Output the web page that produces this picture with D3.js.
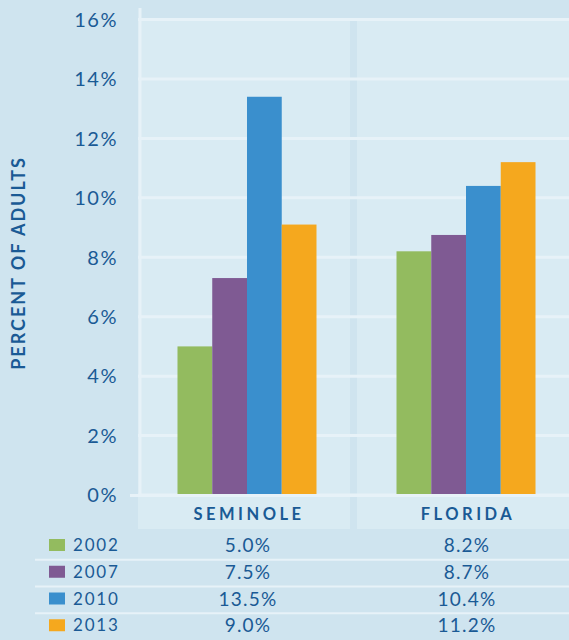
<!DOCTYPE html>
<head>
    <meta charset='utf-8'>
    <title>Percent of Adults</title>
    <script src='https://d3js.org/d3.v7.min.js'></script>
    <style>
        html, body {
            margin: 0px;
            padding: 0px;
            background-color: #cfe4ef;
        }
        svg {
            display: block;
            font-family: 'Lato', 'Open Sans', sans-serif;
        }
        .tick-label, .cell-text, .year-text {
            fill: #1a5a95;
        }
    </style>
</head>
<body>
    <div id='chart'></div>

    <script>
        // data
        var places = ['SEMINOLE', 'FLORIDA'];
        var years = ['2002', '2007', '2010', '2013'];
        var colors = ['#93bb5f', '#7f5a93', '#3a8fcd', '#f5a81e'];
        var seminoleValues = [5.0, 7.3, 13.4, 9.1];
        var floridaValues = [8.2, 8.75, 10.4, 11.2];
        var seminoleLabels = ['5.0%', '7.5%', '13.5%', '9.0%'];
        var floridaLabels = ['8.2%', '8.7%', '10.4%', '11.2%'];
        var yTicks = [0, 2, 4, 6, 8, 10, 12, 14, 16];

        var width = 569, height = 640;
        var textColor = '#1a5a95';
        var panelLeft = 138, panelRight = 569;

        var svg = d3.select('#chart').append('svg')
            .attr('width', width)
            .attr('height', height);

        svg.append('rect')
            .attr('width', width).attr('height', height)
            .attr('fill', '#cfe4ef');

        var y = d3.scaleLinear().domain([0, 16]).range([495, 19.5]);

        var x0 = d3.scaleBand()
            .domain(places)
            .range([panelLeft, panelRight])
            .paddingInner(0.032);

        var x1 = d3.scaleBand()
            .domain(years)
            .range([0, 139]);

        var barOffset = (x0.bandwidth() - 139) / 2 + 3;
        function groupCenter(p) { return x0(p) + barOffset + 69.5; }

        // light panel
        svg.append('rect')
            .attr('x', panelLeft).attr('y', y(16))
            .attr('width', panelRight - panelLeft)
            .attr('height', y(0) - y(16))
            .attr('fill', '#d9ebf3');

        // darker divider between the groups
        svg.append('rect')
            .attr('x', x0('SEMINOLE') + x0.bandwidth())
            .attr('y', y(16))
            .attr('width', x0('FLORIDA') - x0('SEMINOLE') - x0.bandwidth())
            .attr('height', y(0) - y(16) + 36)
            .attr('fill', '#cfe4ef');

        // category label cells
        svg.selectAll('.cell')
            .data(places)
            .enter().append('rect')
            .attr('x', function(d) { return x0(d); })
            .attr('y', y(0))
            .attr('width', x0.bandwidth())
            .attr('height', 34)
            .attr('fill', '#d9ebf3');

        // gridlines
        svg.selectAll('.grid')
            .data(yTicks)
            .enter().append('line')
            .attr('x1', panelLeft).attr('x2', panelRight)
            .attr('y1', function(d) { return y(d); })
            .attr('y2', function(d) { return y(d); })
            .attr('stroke', '#e7f2f8')
            .attr('stroke-width', 3);

        // vertical axis line
        svg.append('line')
            .attr('x1', 140).attr('x2', 140)
            .attr('y1', 8).attr('y2', y(0) + 1)
            .attr('stroke', '#e7f2f8')
            .attr('stroke-width', 3);

        // y axis labels
        var yAxis = d3.axisLeft(y)
            .tickValues(yTicks)
            .tickSize(0)
            .tickPadding(0)
            .tickFormat(function(d) { return d + '%'; });

        var gy = svg.append('g')
            .attr('transform', 'translate(118,0)')
            .call(yAxis);
        gy.select('.domain').remove();
        gy.selectAll('text')
            .attr('class', 'tick-label')
            .attr('fill', textColor)
            .attr('dy', '0.34em')
            .style('font-size', '20px')
            .style('font-family', "'Lato', 'Open Sans', sans-serif")
            .style('letter-spacing', '1.5px');

        // axis title
        svg.append('text')
            .attr('transform', 'translate(25,263) rotate(-90)')
            .attr('text-anchor', 'middle')
            .attr('fill', textColor)
            .style('font-size', '18px')
            .style('font-weight', 'bold')
            .style('letter-spacing', '2px')
            .text('PERCENT OF ADULTS');

        // bars
        var groups = [seminoleValues, floridaValues];

        var g = svg.selectAll('.group')
            .data(places)
            .enter().append('g')
            .attr('transform', function(d) { return 'translate(' + (x0(d) + barOffset) + ',0)'; });

        g.selectAll('rect')
            .data(function(d, i) { return groups[i]; })
            .enter().append('rect')
            .attr('x', function(d, i) { return x1(years[i]); })
            .attr('y', function(d) { return y(d); })
            .attr('width', x1.bandwidth())
            .attr('height', function(d) { return y(0) - y(d); })
            .attr('fill', function(d, i) { return colors[i]; });

        // baseline
        svg.append('line')
            .attr('x1', 130).attr('x2', panelRight)
            .attr('y1', y(0) + 0.5).attr('y2', y(0) + 0.5)
            .attr('stroke', '#e7f2f8')
            .attr('stroke-width', 3);

        // category labels
        svg.selectAll('.place')
            .data(places)
            .enter().append('text')
            .attr('x', function(d) { return groupCenter(d) + 2; })
            .attr('y', 520)
            .attr('text-anchor', 'middle')
            .attr('fill', textColor)
            .style('font-size', '16.5px')
            .style('font-weight', 'bold')
            .style('letter-spacing', '3.5px')
            .text(function(d) { return d; });

        // table rows
        var rowY = d3.scaleBand().domain(years).range([533, 640]);
        var labels = [seminoleLabels, floridaLabels];

        svg.selectAll('.sep')
            .data(years.slice(1))
            .enter().append('line')
            .attr('x1', 35).attr('x2', width)
            .attr('y1', function(d) { return rowY(d); })
            .attr('y2', function(d) { return rowY(d); })
            .attr('stroke', '#e7f2f8')
            .attr('stroke-width', 2);

        var row = svg.selectAll('.row')
            .data(years)
            .enter().append('g')
            .attr('transform', function(d) { return 'translate(0,' + rowY(d) + ')'; });

        row.append('rect')
            .attr('x', 49).attr('y', 6)
            .attr('width', 16).attr('height', 12)
            .attr('fill', function(d, i) { return colors[i]; });

        row.append('text')
            .attr('class', 'year-text')
            .attr('x', 73).attr('y', 18)
            .style('font-size', '17px')
            .style('letter-spacing', '1.8px')
            .text(function(d) { return d; });

        places.forEach(function(p, k) {
            row.append('text')
                .attr('class', 'cell-text')
                .attr('x', groupCenter(p) + 1)
                .attr('y', 19)
                .attr('text-anchor', 'middle')
                .style('font-size', '19px')
                .style('letter-spacing', '1.2px')
                .text(function(d, i) { return labels[k][i]; });
        });
    </script>
</body>
